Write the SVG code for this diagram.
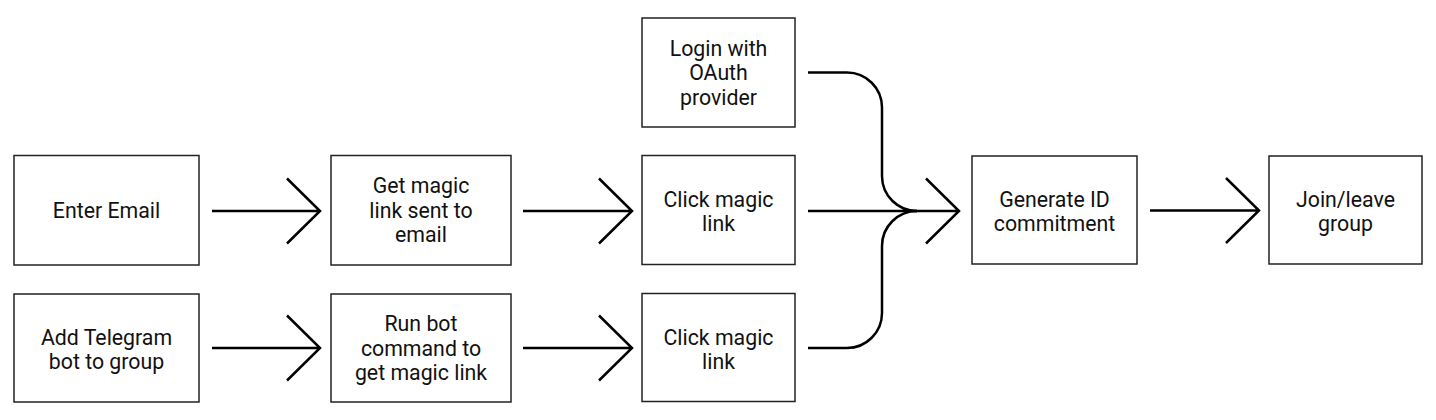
<svg xmlns="http://www.w3.org/2000/svg" width="1436" height="420" viewBox="0 0 1436 420">
<style>
.box{fill:#fff;stroke:#222;stroke-width:1.5}
.t{font-family:Roboto,"Liberation Sans",sans-serif;font-size:21.3px;fill:#111;text-anchor:middle}
.c{fill:none;stroke:#000;stroke-width:2.5}
</style>
<rect width="1436" height="420" fill="#fff"/>
<g id="n-email"><rect class="box" x="14" y="155.5" width="185" height="109.5"/><text class="t" x="106.5" y="218">Enter Email</text></g>
<g id="n-telegram"><rect class="box" x="14" y="294" width="185" height="108"/><text class="t" x="106.5" y="344.5">Add Telegram</text><text class="t" x="106.5" y="369">bot to group</text></g>
<g id="n-getlink"><rect class="box" x="331" y="155.5" width="180" height="109.5"/><text class="t" x="421" y="193">Get magic</text><text class="t" x="421" y="217.5">link sent to</text><text class="t" x="421" y="242">email</text></g>
<g id="n-runbot"><rect class="box" x="331" y="294" width="180" height="108"/><text class="t" x="421" y="331">Run bot</text><text class="t" x="421" y="355.5">command to</text><text class="t" x="421" y="380">get magic link</text></g>
<g id="n-oauth"><rect class="box" x="642" y="18" width="153" height="109"/><text class="t" x="718.5" y="55.5">Login with</text><text class="t" x="718.5" y="80">OAuth</text><text class="t" x="718.5" y="104.5">provider</text></g>
<g id="n-click1"><rect class="box" x="642" y="155.5" width="153" height="109"/><text class="t" x="718.5" y="206.5">Click magic</text><text class="t" x="718.5" y="231">link</text></g>
<g id="n-click2"><rect class="box" x="642" y="293.5" width="153" height="108"/><text class="t" x="718.5" y="344.5">Click magic</text><text class="t" x="718.5" y="369">link</text></g>
<g id="n-generate"><rect class="box" x="972" y="156" width="165" height="108"/><text class="t" x="1054.5" y="206.5">Generate ID</text><text class="t" x="1054.5" y="231">commitment</text></g>
<g id="n-join"><rect class="box" x="1269" y="156" width="153" height="108"/><text class="t" x="1345.5" y="206.5">Join/leave</text><text class="t" x="1345.5" y="231">group</text></g>
<g id="connectors">
<path class="c" d="M212,211 H320 M287,178.5 L320,211 L287,243.5"/>
<path class="c" d="M212,348 H320 M287,315.5 L320,348 L287,380.5"/>
<path class="c" d="M523,211 H632 M599,178.5 L632,211 L599,243.5"/>
<path class="c" d="M523,348 H632 M599,315.5 L632,348 L599,380.5"/>
<path class="c" d="M808,211 H959 M926,178.5 L959,211 L926,243.5"/>
<path class="c" d="M808,72.5 H847 A35,35 0 0 1 882,107.5 V176 A35,35 0 0 0 917,211"/>
<path class="c" d="M808,348 H847 A35,35 0 0 0 882,313 V246 A35,35 0 0 1 917,211"/>
<path class="c" d="M1150,210.5 H1259 M1226,178 L1259,210.5 L1226,243"/>
</g>
</svg>
